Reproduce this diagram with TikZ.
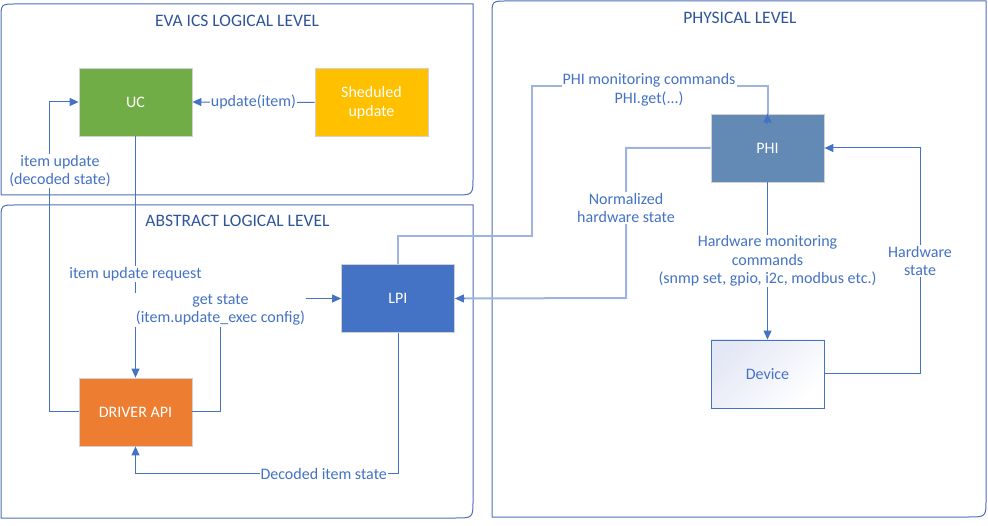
\documentclass[tikz,border=0pt]{standalone}
\usepackage{fontspec}
\setmainfont{Carlito}
\usetikzlibrary{arrows.meta}
\definecolor{cline}{HTML}{4472C4}
\definecolor{clight}{HTML}{9DB4E0}
\definecolor{cpanel}{HTML}{4F6FB5}
\definecolor{ctitle}{HTML}{2F5597}
\definecolor{cgreen}{HTML}{70AD47}
\definecolor{cyellow}{HTML}{FFC000}
\definecolor{corange}{HTML}{ED7D31}
\definecolor{cblue}{HTML}{4472C4}
\definecolor{cphi}{HTML}{6389B5}
\definecolor{cdev}{HTML}{E4E7F5}
\tikzset{
  panel/.style={draw=cpanel, line width=1pt},
  title/.style={text=ctitle, font=\fontsize{17.5}{20}\selectfont},
  box/.style={minimum width=113pt, minimum height=68pt, inner sep=0pt,
    draw=black!18, line width=0.8pt, text=white, align=center,
    font=\fontsize{16}{19}\selectfont},
  conn/.style={draw=cline, line width=1pt},
  xconn/.style={draw=clight, line width=2pt},
  tip/.style={-{Triangle[length=9pt,width=8pt,fill=cline,color=cline]}},
  lbl/.style={fill=white, text=cline, inner sep=1pt, align=center,
    font=\fontsize{16}{18.5}\selectfont},
}
\begin{document}
\begin{tikzpicture}[x=1pt,y=-1pt]
\useasboundingbox (0,0) rectangle (988,526);
% panels
\draw[panel] (1,195) -- (1,19) .. controls (1,4) .. (16,4) -- (473,4) -- (473,177) .. controls (473,195) .. (455,195) -- cycle;
\draw[panel] (1,518) -- (1,220) .. controls (1,205) .. (16,205) -- (473,205) -- (473,500) .. controls (473,518) .. (455,518) -- cycle;
\draw[panel] (492,517) -- (492,16) .. controls (492,1) .. (507,1) -- (986,1) -- (986,499) .. controls (986,517) .. (968,517) -- cycle;
\node[title] (t1) at (237,21) {EVA ICS LOGICAL LEVEL};
\node[title] (t2) at (237.5,221) {ABSTRACT LOGICAL LEVEL};
\node[title] (t3) at (740,18) {PHYSICAL LEVEL};
% boxes
\node[box, fill=cgreen] (uc) at (135.5,102) {UC};
\node[box, fill=cyellow] (sch) at (371.5,102.5) {Sheduled\\update};
\node[box, fill=corange] (drv) at (135.5,412) {DRIVER API};
\node[box, fill=cblue] (lpi) at (398,298.5) {LPI};
\node[box, fill=cphi] (phi) at (767.5,148) {PHI};
\node[box, draw=cline, top color=cdev, bottom color=white, shading angle=45, text=cline] (dev) at (767.5,374) {Device};
% connectors crossing into the physical level (light)
\draw[xconn] (lpi.north) |- (532,236) -- (532,86) -| ([yshift=-9pt]phi.north);
\draw[conn, tip] ([yshift=-10pt]phi.north) -- (phi.north);
\node[lbl] (l6) at (649,90) {PHI monitoring commands\\PHI.get(...)};
\draw[xconn] (phi.west) -| (626,298) -- ([xshift=9pt]lpi.east);
\draw[conn, tip] ([xshift=10pt]lpi.east) -- (lpi.east);
\node[lbl] (l7) at (626,208) {Normalized\\hardware state};
% other connectors
\draw[conn, tip] (sch.west) -- node[lbl, inner sep=0.5pt] {update(item)} (uc.east);
\draw[conn, tip] (drv.west) -- ++(-29,0) |- (uc.west);
\node[lbl] (l2) at (60,171) {item update\\(decoded state)};
\draw[conn, tip] (uc.south) -- node[lbl, pos=0.57] {item update request} (drv.north);
\draw[conn, tip] (drv.east) -- ++(28,0) |- (lpi.west);
\node[lbl] (l4) at (220.5,310) {get state\\(item.update\_exec config)};
\draw[conn, tip] (lpi.south) -- ++(0,141) -| (drv.south);
\node[lbl] (l5) at (323.7,474) {Decoded item state};
\draw[conn, tip] (phi.south) -- node[lbl, pos=0.5] {Hardware monitoring\\commands\\(snmp set, gpio, i2c, modbus etc.)} (dev.north);
\draw[conn, tip] (dev.east) -- ++(96,0) |- (phi.east);
\node[lbl] (l9) at (920,261) {Hardware\\state};
\end{tikzpicture}
\end{document}
